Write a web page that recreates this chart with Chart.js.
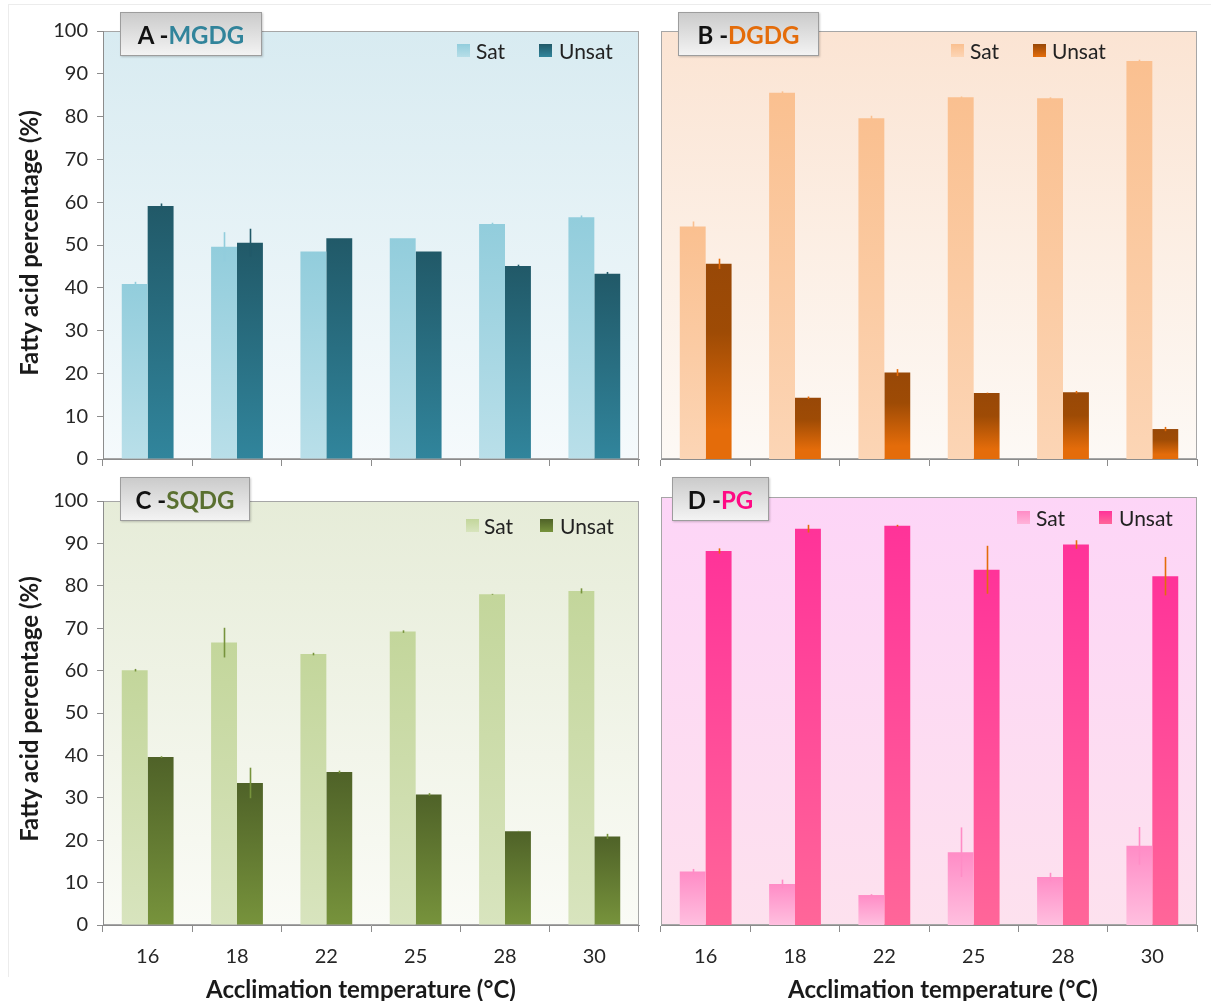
<!DOCTYPE html>
<html>
<head>
<meta charset="utf-8">
<title>Fatty acid saturation by acclimation temperature</title>
<script src="https://cdn.jsdelivr.net/npm/chart.js@4.4.1/dist/chart.umd.min.js"></script>
<style>
  html, body { margin: 0; padding: 0; background: #fff; }
  #fig { position: relative; width: 1211px; height: 1001px; font-family: Lato, "Open Sans", sans-serif; color: #1a1a1a; }
  #fig canvas { position: absolute; }
  .frame { position: absolute; left: 8px; top: 4px; width: 1203px; height: 972px; border-top: 1px solid #ececec; border-left: 1px solid #ececec; }
  .tag { position: absolute; height: 44px; line-height: 44px; text-align: center; font-weight: bold; font-size: 24px;
         background: linear-gradient(to bottom, #cbcbcb, #f3f3f3); border: 1px solid #9d9d9d; box-sizing: border-box;
         box-shadow: 1px 1px 2px rgba(0,0,0,0.2); color: #111; }
  .legend { position: absolute; font-size: 21px; line-height: 21px; color: #222; white-space: nowrap; }
  .legend .sw { position: absolute; top: 4px; width: 13px; height: 13px; }
  .legend .lb { position: absolute; top: 0; }
  .ytitle { position: absolute; font-weight: bold; font-size: 24px; white-space: nowrap; transform: translate(-50%, -50%) rotate(-90deg); }
  .xtitle { position: absolute; font-weight: bold; font-size: 24px; white-space: nowrap; transform: translate(-50%, -50%); }
</style>
</head>
<body>
<div id="fig">
  <div class="frame"></div>
  <canvas id="chartA" width="650" height="480" style="left:0;top:0"></canvas>
  <canvas id="chartB" width="561" height="480" style="left:650px;top:0"></canvas>
  <canvas id="chartC" width="650" height="521" style="left:0;top:480px"></canvas>
  <canvas id="chartD" width="561" height="521" style="left:650px;top:480px"></canvas>

  <div class="tag" style="left:120px;top:12px;width:142px">A -<span style="color:#31849b">MGDG</span></div>
  <div class="tag" style="left:678px;top:12px;width:141px">B -<span style="color:#e46c0a">DGDG</span></div>
  <div class="tag" style="left:120px;top:477px;width:130px">C -<span style="color:#5a7030">SQDG</span></div>
  <div class="tag" style="left:672px;top:477px;width:97px">D -<span style="color:#ff0a84">PG</span></div>

  <div class="legend" style="left:0;top:40px">
    <span class="sw" style="left:457px;background:linear-gradient(#92cddc,#b7dee8)"></span><span class="lb" style="left:476px">Sat</span>
    <span class="sw" style="left:539px;background:linear-gradient(#215968,#31859c)"></span><span class="lb" style="left:559px">Unsat</span>
  </div>
  <div class="legend" style="left:0;top:40px">
    <span class="sw" style="left:951px;background:linear-gradient(#fac090,#fcd5b5)"></span><span class="lb" style="left:970px">Sat</span>
    <span class="sw" style="left:1033px;background:linear-gradient(#984807,#e46c0a)"></span><span class="lb" style="left:1052px">Unsat</span>
  </div>
  <div class="legend" style="left:0;top:515px">
    <span class="sw" style="left:466px;background:linear-gradient(#c3d69b,#d7e4bd)"></span><span class="lb" style="left:484px">Sat</span>
    <span class="sw" style="left:540px;background:linear-gradient(#4f6228,#77933c)"></span><span class="lb" style="left:560px">Unsat</span>
  </div>
  <div class="legend" style="left:0;top:507px">
    <span class="sw" style="left:1017px;background:linear-gradient(#ff8cc6,#ffb3d9)"></span><span class="lb" style="left:1036px">Sat</span>
    <span class="sw" style="left:1099px;background:linear-gradient(#ff3399,#ff6699)"></span><span class="lb" style="left:1119px">Unsat</span>
  </div>

  <div class="ytitle" style="left:28px;top:243px">Fatty acid percentage (%)</div>
  <div class="ytitle" style="left:28px;top:709px">Fatty acid percentage (%)</div>
  <div class="xtitle" style="left:361px;top:988px">Acclimation temperature (°C)</div>
  <div class="xtitle" style="left:943px;top:988px">Acclimation temperature (°C)</div>
</div>

<script>
// categories (acclimation temperature, °C)
const temperatures = ['16', '18', '22', '25', '28', '30'];

// A - MGDG
const mgdgSat = [40.9, 49.6, 48.5, 51.6, 54.9, 56.5];
const mgdgSatErr = [0.5, 3.4, 0, 0, 0.3, 0.4];
const mgdgUnsat = [59.1, 50.5, 51.6, 48.5, 45.1, 43.3];
const mgdgUnsatErr = [0.6, 3.3, 0, 0, 0.3, 0.4];

// B - DGDG
const dgdgSat = [54.3, 85.6, 79.6, 84.5, 84.3, 93.0];
const dgdgSatErr = [1.2, 0.3, 0.6, 0.2, 0.2, 0.3];
const dgdgUnsat = [45.6, 14.3, 20.2, 15.4, 15.6, 7.0];
const dgdgUnsatErr = [1.2, 0.3, 0.8, 0.1, 0.3, 0.5];

// C - SQDG
const sqdgSat = [60.1, 66.6, 63.9, 69.2, 78.0, 78.8];
const sqdgSatErr = [0.3, 3.5, 0.3, 0.3, 0.1, 0.6];
const sqdgUnsat = [39.6, 33.5, 36.1, 30.8, 22.1, 20.9];
const sqdgUnsatErr = [0.2, 3.6, 0.3, 0.3, 0.1, 0.6];

// D - PG
const pgSat = [12.5, 9.6, 7.0, 17.0, 11.2, 18.5];
const pgSatErr = [0.6, 1.0, 0.2, 5.8, 1.0, 4.4];
const pgUnsat = [87.4, 92.6, 93.3, 83.0, 88.9, 81.5];
const pgUnsatErr = [0.6, 0.9, 0.2, 5.6, 1.0, 4.5];

// y axis range
const yMin = 0;
const yMax = 100;
const yStep = 10;

const axisGrey = '#8c8c8c';
const tickFont = { family: 'Lato', size: 20 };

// fills the plot area with a vertical gradient and draws its frame
const plotBackground = {
    id: 'plotBackground',
    beforeDraw(chart, args, opts) {
        const { ctx, chartArea: a } = chart;
        const g = ctx.createLinearGradient(0, a.top, 0, a.bottom);
        g.addColorStop(0, opts.top);
        g.addColorStop(1, opts.bottom);
        ctx.save();
        ctx.fillStyle = g;
        ctx.fillRect(a.left, a.top, a.width, a.height);
        ctx.strokeStyle = '#a6a6a6';
        ctx.lineWidth = 1;
        ctx.strokeRect(a.left + 0.5, a.top + 0.5, a.width - 1, a.height - 1);
        ctx.restore();
    }
};

// plain vertical error lines (no caps), like the original figure
const errorBars = {
    id: 'errorBars',
    afterDatasetsDraw(chart) {
        const ctx = chart.ctx;
        const y = chart.scales.y;
        chart.data.datasets.forEach((ds, i) => {
            const meta = chart.getDatasetMeta(i);
            meta.data.forEach((bar, j) => {
                const e = ds.errors[j];
                if (!e) return;
                const v = ds.data[j];
                ctx.save();
                ctx.strokeStyle = ds.errorColor;
                ctx.lineWidth = 1.6;
                ctx.beginPath();
                ctx.moveTo(Math.round(bar.x) + 0.5, y.getPixelForValue(v - e));
                ctx.lineTo(Math.round(bar.x) + 0.5, y.getPixelForValue(v + e));
                ctx.stroke();
                ctx.restore();
            });
        });
    }
};

// gradient over each bar's own height (Excel style fill)
function barGradient(stops) {
    return (context) => {
        const chart = context.chart;
        if (!chart.chartArea || context.raw === undefined) return stops[0][1];
        const y = chart.scales.y;
        const top = y.getPixelForValue(context.raw);
        const bottom = y.getPixelForValue(0);
        const g = chart.ctx.createLinearGradient(0, top, 0, bottom);
        stops.forEach(([o, c]) => g.addColorStop(o, c));
        return g;
    };
}

function makePanel(canvasId, cfg) {
    return new Chart(document.getElementById(canvasId), {
        type: 'bar',
        data: {
            labels: temperatures,
            datasets: [
                {
                    label: 'Sat', data: cfg.sat, errors: cfg.satErr, errorColor: cfg.satErrColor,
                    backgroundColor: barGradient(cfg.satStops),
                    categoryPercentage: 0.58, barPercentage: 1
                },
                {
                    label: 'Unsat', data: cfg.unsat, errors: cfg.unsatErr, errorColor: cfg.unsatErrColor,
                    backgroundColor: barGradient(cfg.unsatStops),
                    categoryPercentage: 0.58, barPercentage: 1
                }
            ]
        },
        options: {
            responsive: false,
            animation: false,
            layout: { padding: cfg.padding },
            plugins: {
                legend: { display: false },
                tooltip: { enabled: false },
                plotBackground: cfg.bg
            },
            scales: {
                x: {
                    grid: { drawOnChartArea: false, tickLength: 7, color: axisGrey },
                    border: { color: axisGrey },
                    ticks: {
                        font: tickFont, color: '#262626', padding: 13, maxRotation: 0, minRotation: 0,
                        callback: function (value) { return cfg.showX ? this.getLabelForValue(value) : ''; }
                    },
                    afterFit: (scale) => { scale.height = cfg.xHeight; }
                },
                y: {
                    display: cfg.showY,
                    min: yMin, max: yMax,
                    grid: { drawOnChartArea: false, tickLength: 6, color: axisGrey },
                    border: { color: axisGrey },
                    ticks: { stepSize: yStep, font: tickFont, color: '#262626', padding: 9 },
                    afterFit: (scale) => { scale.width = cfg.showY ? 103 : 0; }
                }
            }
        },
        plugins: [plotBackground, errorBars]
    });
}

makePanel('chartA', {
    sat: mgdgSat, satErr: mgdgSatErr, unsat: mgdgUnsat, unsatErr: mgdgUnsatErr,
    satStops: [[0, '#92cddc'], [1, '#b9dfe9']],
    unsatStops: [[0, '#215968'], [1, '#31859c']],
    satErrColor: '#92cddc', unsatErrColor: '#215968',
    bg: { top: '#d8ebf1', bottom: '#f5fafc' },
    padding: { top: 31, right: 11, left: 0, bottom: 0 },
    showX: false, showY: true, xHeight: 21
});

makePanel('chartB', {
    sat: dgdgSat, satErr: dgdgSatErr, unsat: dgdgUnsat, unsatErr: dgdgUnsatErr,
    satStops: [[0, '#fac090'], [1, '#fcd5b5']],
    unsatStops: [[0, '#984807'], [0.35, '#9e4b05'], [0.85, '#e46c0a'], [1, '#e46c0a']],
    satErrColor: '#fac090', unsatErrColor: '#e46c0a',
    bg: { top: '#fbe4d3', bottom: '#fdf9f5' },
    padding: { top: 31, right: 14, left: 11, bottom: 0 },
    showX: false, showY: false, xHeight: 21
});

makePanel('chartC', {
    sat: sqdgSat, satErr: sqdgSatErr, unsat: sqdgUnsat, unsatErr: sqdgUnsatErr,
    satStops: [[0, '#c3d69b'], [1, '#d8e4be']],
    unsatStops: [[0, '#4f6228'], [1, '#77933c']],
    satErrColor: '#77933c', unsatErrColor: '#77933c',
    bg: { top: '#e6ecd8', bottom: '#fafbf6' },
    padding: { top: 17, right: 11, left: 0, bottom: 0 },
    showX: true, showY: true, xHeight: 76
});

makePanel('chartD', {
    sat: pgSat, satErr: pgSatErr, unsat: pgUnsat, unsatErr: pgUnsatErr,
    satStops: [[0, '#ff8cc6'], [1, '#ffbfdf']],
    unsatStops: [[0, '#ff3399'], [1, '#ff6699']],
    satErrColor: '#ff8cc6', unsatErrColor: '#e46c0a',
    bg: { top: '#fdd5f7', bottom: '#fde1ee' },
    padding: { top: 17, right: 14, left: 11, bottom: 0 },
    showX: true, showY: false, xHeight: 76
});
</script>
</body>
</html>
